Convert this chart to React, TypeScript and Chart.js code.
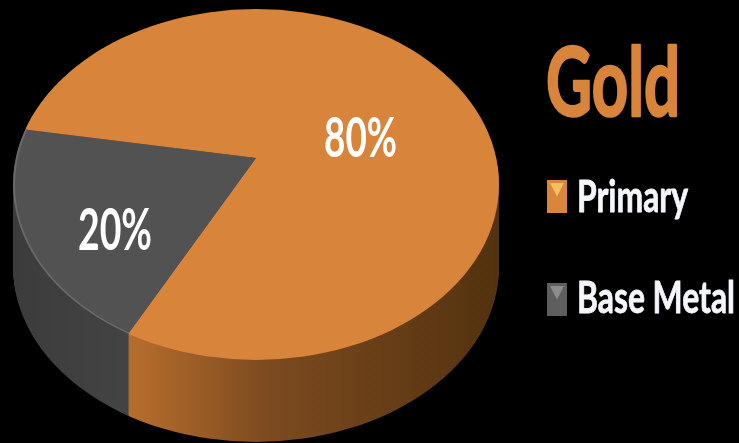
import React, { useEffect, useRef } from "react";
import { Chart, registerables } from "chart.js";

Chart.register(...registerables);

// Chart content
const chartTitle = "Gold";
const categories = ["Primary", "Base Metal"];
const shares = [80, 20];

// Colours
const faceColors = ["#d8843a", "#525252"];
const swatchColors = ["#d9863a", "#5e5e5e"];
const swatchGlints = ["#f2c060", "#8c8c8c"];
const wallStops = [
  [
    [0.26, "#b46c2c"],
    [0.52, "#7d4b20"],
    [1, "#53320f"],
  ],
  [
    [0, "#3c3c3c"],
    [0.26, "#444444"],
  ],
];

// Pie drawn as a tilted disc: the face is an ellipse whose centre sits below the hub
const tilt = 0.722;
const discRadius = 243;
const hubDrop = 26.5;
const wallDepth = 82;

// Text boxes: left edge, baseline and fitted width, with the font size that sets the height
const titleBox = { x: 546, base: 116, w: 134, size: 96, weight: 2.5 };
const legendBoxes = [
  { x: 577, base: 212, w: 111, size: 44, weight: 0.8, swatch: { x: 547, y: 180, w: 20, h: 33 } },
  { x: 577, base: 313, w: 158, size: 44, weight: 0.8, swatch: { x: 547, y: 283, w: 20, h: 33 } },
];
const valueBoxes = [
  { x: 324, base: 157, w: 73, size: 56, weight: 0 },
  { x: 78, base: 250, w: 74, size: 58, weight: 0 },
];

function fitText(
  ctx: CanvasRenderingContext2D,
  text: string,
  box: { x: number; base: number; w: number; size: number; weight: number },
  color: string
) {
  ctx.save();
  ctx.font = `bold ${box.size}px Lato, sans-serif`;
  ctx.textBaseline = "alphabetic";
  ctx.textAlign = "left";
  ctx.fillStyle = color;
  ctx.strokeStyle = color;
  const natural = ctx.measureText(text).width;
  ctx.translate(box.x, box.base);
  ctx.scale(box.w / natural, 1);
  ctx.fillText(text, 0, 0);
  if (box.weight > 0) {
    ctx.lineWidth = box.weight;
    ctx.lineJoin = "round";
    ctx.strokeText(text, 0, 0);
  }
  ctx.restore();
}

function enterDisc(ctx: CanvasRenderingContext2D, x: number, y: number, drop: number) {
  ctx.translate(x, y + drop);
  ctx.scale(1, tilt);
  ctx.translate(-x, -y);
  ctx.beginPath();
  ctx.arc(x, y + hubDrop / tilt, discRadius, 0, Math.PI * 2);
  ctx.clip();
}

const discPlugin = {
  id: "disc",
  beforeDatasetsDraw(chart: any) {
    const ctx: CanvasRenderingContext2D = chart.ctx;
    const arcs = chart.getDatasetMeta(0).data;
    const { x, y } = arcs[0];
    const fills = wallStops.map((stops) => {
      const g = ctx.createLinearGradient(x - discRadius, 0, x + discRadius, 0);
      stops.forEach(([at, color]) => g.addColorStop(at as number, color as string));
      return g;
    });
    for (let drop = wallDepth; drop >= 1; drop--) {
      ctx.save();
      enterDisc(ctx, x, y, drop);
      arcs.forEach((arc: any, i: number) => {
        const own = arc.options;
        arc.options = Object.assign({}, own, { backgroundColor: fills[i] });
        arc.draw(ctx);
        arc.options = own;
      });
      ctx.restore();
    }
  },
  beforeDatasetDraw(chart: any) {
    const { x, y } = chart.getDatasetMeta(0).data[0];
    chart.ctx.save();
    enterDisc(chart.ctx, x, y, 0);
  },
  afterDatasetDraw(chart: any) {
    const ctx: CanvasRenderingContext2D = chart.ctx;
    const grey = chart.getDatasetMeta(0).data[1];
    // Pale rim along the grey slice
    ctx.save();
    ctx.beginPath();
    ctx.moveTo(grey.x, grey.y);
    ctx.arc(grey.x, grey.y, grey.outerRadius, grey.startAngle, grey.endAngle);
    ctx.closePath();
    ctx.clip();
    ctx.beginPath();
    ctx.arc(grey.x, grey.y + hubDrop / tilt, discRadius - 1, 0, Math.PI * 2);
    ctx.strokeStyle = "#696969";
    ctx.lineWidth = 2;
    ctx.stroke();
    ctx.restore();
    ctx.restore();
  },
  afterDraw(chart: any) {
    const ctx: CanvasRenderingContext2D = chart.ctx;
    const values: number[] = chart.data.datasets[0].data;
    values.forEach((v, i) => fitText(ctx, `${v}%`, valueBoxes[i], "#ffffff"));
    fitText(ctx, chartTitle, titleBox, faceColors[0]);
    (chart.data.labels as string[]).forEach((label, i) => {
      const box = legendBoxes[i];
      const { x, y, w, h } = box.swatch;
      ctx.fillStyle = swatchColors[i];
      ctx.fillRect(x, y, w, h);
      // Small bevel glint at the top of each swatch
      ctx.fillStyle = swatchGlints[i];
      ctx.beginPath();
      ctx.moveTo(x + 3, y + 3);
      ctx.lineTo(x + w - 3, y + 3);
      ctx.lineTo(x + w / 2, y + h / 2);
      ctx.closePath();
      ctx.fill();
      fitText(ctx, label, box, "#f4f6fb");
    });
  },
};

export default function App() {
  const ref = useRef<HTMLCanvasElement>(null);

  useEffect(() => {
    document.body.style.margin = "0";
    document.body.style.background = "#000";
    const chart = new Chart(ref.current!, {
      type: "pie",
      data: {
        labels: categories,
        datasets: [
          {
            data: shares,
            backgroundColor: faceColors,
            borderWidth: 0,
            clip: false,
          } as any,
        ],
      },
      options: {
        responsive: false,
        animation: false,
        rotation: 279.7,
        radius: 300,
        layout: { padding: { left: 0, top: 0, right: 227, bottom: 127 } },
        plugins: { legend: { display: false }, title: { display: false }, tooltip: { enabled: false } },
      },
      plugins: [discPlugin],
    });
    return () => chart.destroy();
  }, []);

  return (
    <div style={{ width: 739, height: 443, background: "#000" }}>
      <canvas ref={ref} width={739} height={443} style={{ display: "block" }} />
    </div>
  );
}
